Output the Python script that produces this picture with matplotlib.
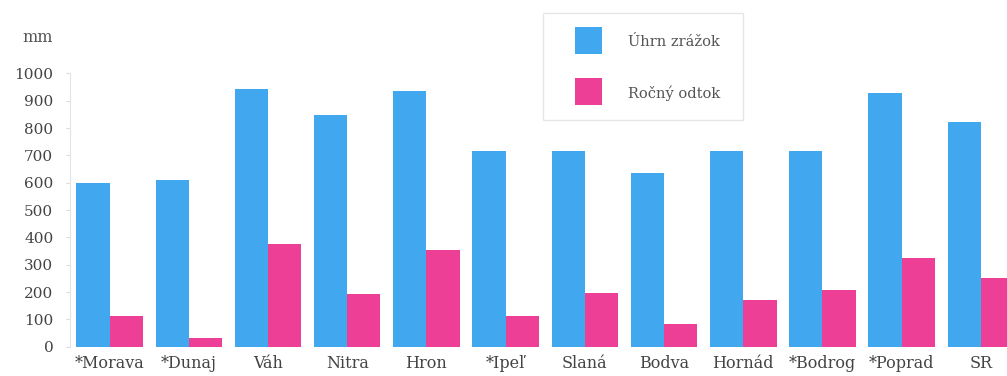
import matplotlib
matplotlib.use("Agg")
import matplotlib.pyplot as plt
import numpy as np
from matplotlib.patches import Rectangle

rivers = ["*Morava", "*Dunaj", "Váh", "Nitra", "Hron", "*Ipeľ", "Slaná",
          "Bodva", "Hornád", "*Bodrog", "*Poprad", "SR"]
zrazky = [600, 610, 943, 848, 936, 717, 717, 634, 717, 717, 929, 822]
odtok = [112, 33, 375, 192, 354, 112, 198, 83, 171, 207, 323, 250]
yticks = [0, 100, 200, 300, 400, 500, 600, 700, 800, 900, 1000]
legend_labels = ["Úhrn zrážok", "Ročný odtok"]

blue = "#41a8ef"
pink = "#ee3f97"
txt = "#444444"
plt.rcParams["font.family"] = ["DejaVu Serif", "DejaVu Sans"]

W, H = 1007, 376
fig = plt.figure(figsize=(W / 100, H / 100), dpi=100)
ax = fig.add_axes([70 / W, (H - 346.7) / H, (W - 70) / W, (346.7 - 73.4) / H])

x = np.arange(len(rivers))
w = 0.42
ax.bar(x - w / 2, zrazky, width=w, color=blue)
ax.bar(x + w / 2, odtok, width=w, color=pink)

ax.set_xlim(-0.5, 11.33)
ax.set_ylim(0, 1000)
ax.set_yticks(yticks)
ax.set_xticks(x)
ax.set_xticklabels(rivers)
ax.tick_params(axis="y", length=3, color="#dddddd", pad=9, labelsize=11, labelcolor=txt)
ax.tick_params(axis="x", length=0, pad=6, labelsize=11.5, labelcolor=txt)
for s in ["top", "right", "bottom"]:
    ax.spines[s].set_visible(False)
ax.spines["left"].set_color("#e4e4e4")

fig.text(22 / W, 1 - 37 / H, "mm", fontsize=11.5, color="#555555", va="center")

# legend box drawn by hand, as in the printed figure
fig.add_artist(Rectangle((543 / W, 1 - 120 / H), 200 / W, 107 / H,
                         transform=fig.transFigure, facecolor="white",
                         edgecolor="#e6e6e6", linewidth=1.0, zorder=5))
for i, (lab, col) in enumerate(zip(legend_labels, [blue, pink])):
    top = 27 + i * 51
    fig.add_artist(Rectangle((575 / W, 1 - (top + 27) / H), 27 / W, 27 / H,
                             transform=fig.transFigure, facecolor=col,
                             edgecolor="none", zorder=6))
    fig.text(628 / W, 1 - (top + 15) / H, lab, fontsize=10.5, color="#555555",
             va="center", zorder=7)

fig.savefig("out.png", dpi=100)
